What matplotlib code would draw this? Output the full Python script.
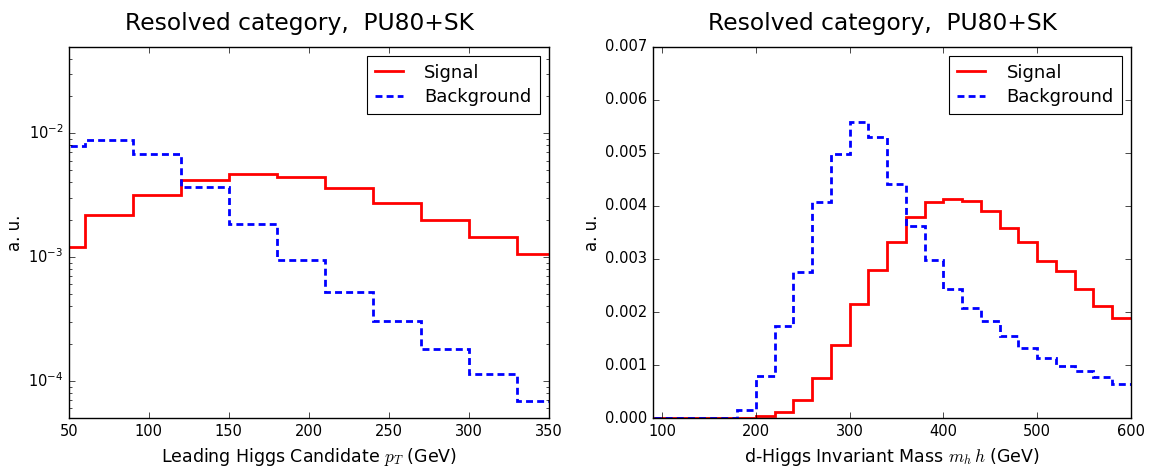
import numpy as np
import matplotlib
matplotlib.use("Agg")
import matplotlib.pyplot as plt

# leading Higgs pT histogram (30 GeV bins)
pt_edges = np.arange(30, 361, 30)
pt_signal = [0.00120, 0.00217, 0.00315, 0.00417, 0.00469, 0.00441,
             0.00359, 0.00275, 0.00199, 0.00145, 0.00106]
pt_background = [0.00789, 0.00877, 0.00676, 0.00366, 0.00184, 0.00094,
                 0.000521, 0.000304, 0.000180, 0.000113, 0.0000693]

# di-Higgs invariant mass histogram (20 GeV bins)
mhh_edges = np.arange(80, 601, 20)
mhh_signal = [0, 0, 0, 0, 0, 0,
              0.00004, 0.000113, 0.00034, 0.000763, 0.00137, 0.00215,
              0.00279, 0.00332, 0.00379, 0.00408, 0.00413, 0.00409,
              0.00390, 0.00359, 0.00332, 0.00296, 0.00277, 0.00243,
              0.00211, 0.00188]
mhh_background = [0, 0, 0, 0, 0, 0.000159,
                  0.000801, 0.00173, 0.00275, 0.00407, 0.00497, 0.00558,
                  0.00529, 0.00442, 0.00362, 0.00297, 0.00244, 0.00207,
                  0.00183, 0.00154, 0.00132, 0.00113, 0.000977, 0.000895,
                  0.000769, 0.000637]

title = "Resolved category,  PU80+SK"

plt.style.use("classic")
plt.rcParams["figure.facecolor"] = "white"
plt.rcParams["savefig.facecolor"] = "white"

fig = plt.figure(figsize=(11.53, 4.67), dpi=100)
ax1 = fig.add_axes([0.0598, 0.1045, 0.4161, 0.7959])
ax2 = fig.add_axes([0.5661, 0.1045, 0.4148, 0.7959])


def draw(ax, edges, sig, bkg):
    ax.stairs(sig, edges, baseline=None, color="red", lw=2, label="Signal")
    ax.stairs(bkg, edges, baseline=None, color="blue", lw=2,
              linestyle=(0, (5, 3)), label="Background")
    ax.set_title(title, fontsize=16.8, pad=12, x=0.481)
    ax.set_ylabel("a. u.", fontsize=12, labelpad=3)
    ax.tick_params(labelsize=10.5)
    leg = ax.legend(loc="upper right", fontsize=13, handlelength=1.55,
                    handletextpad=1.2, borderpad=0.45, labelspacing=0.35,
                    borderaxespad=0.5)
    leg.get_frame().set_linewidth(0.8)


draw(ax1, pt_edges, pt_signal, pt_background)
ax1.set_yscale("log")
ax1.set_xlim(50, 350)
ax1.set_ylim(5e-5, 5e-2)
ax1.set_xlabel("Leading Higgs Candidate $p_T$ (GeV)", fontsize=12.5)

draw(ax2, mhh_edges, mhh_signal, mhh_background)
ax2.set_xlim(90, 600)
ax2.set_ylim(0, 0.007)
ax2.set_xticks([100, 200, 300, 400, 500, 600])
ax2.set_xlabel(r"d-Higgs Invariant Mass $m_h\,h$ (GeV)", fontsize=12.5)

fig.savefig("out.png", dpi=100)
